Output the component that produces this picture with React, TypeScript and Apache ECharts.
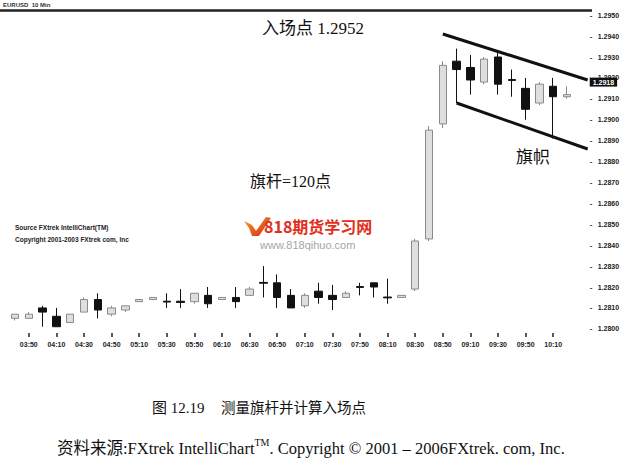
import React, { useEffect, useRef } from 'react';
import * as echarts from 'echarts';

// 10-minute EUR/USD bars, 03:40 – 10:20, plus one empty slot on the right
const TIMES = [
  '03:40', '03:50', '04:00', '04:10', '04:20', '04:30', '04:40', '04:50', '05:00', '05:10',
  '05:20', '05:30', '05:40', '05:50', '06:00', '06:10', '06:20', '06:30', '06:40', '06:50',
  '07:00', '07:10', '07:20', '07:30', '07:40', '07:50', '08:00', '08:10', '08:20', '08:30',
  '08:40', '08:50', '09:00', '09:10', '09:20', '09:30', '09:40', '09:50', '10:00', '10:10',
  '10:20', '10:30',
];

const OPEN = [
  1.2805, 1.2805, 1.2810, 1.2806, 1.2803, 1.2808, 1.2814, 1.2807, 1.2809, 1.2813,
  1.2814, 1.28132, 1.28132, 1.2813, 1.2816, 1.2814, 1.2815, 1.2816, 1.28222, 1.2822,
  1.2816, 1.2811, 1.2818, 1.2816, 1.2815, 1.28202, 1.2822, 1.28152, 1.2815, 1.2819,
  1.2843, 1.2898, 1.2928, 1.2925, 1.2918, 1.2930, 1.29192, 1.2915, 1.2908, 1.2916,
  1.2911,
];
const CLOSE = [
  1.2807, 1.2807, 1.2808, 1.2801, 1.2807, 1.2814, 1.2809, 1.2810, 1.2811, 1.2814,
  1.2815, 1.28128, 1.28126, 1.2817, 1.2812, 1.2815, 1.2813, 1.2819, 1.28218, 1.2815,
  1.2810, 1.2816, 1.2815, 1.2814, 1.2817, 1.28198, 1.2820, 1.28148, 1.2816, 1.2842,
  1.2895, 1.2926, 1.2924, 1.2919, 1.2929, 1.2917, 1.29188, 1.2905, 1.2917, 1.2911,
  1.2912,
];
const LOW = [
  1.2804, 1.2805, 1.2801, 1.2801, 1.2803, 1.2808, 1.2805, 1.2806, 1.2808, 1.2813,
  1.2814, 1.2810, 1.2810, 1.2812, 1.2810, 1.2814, 1.2810, 1.2816, 1.2815, 1.2810,
  1.2810, 1.2810, 1.2812, 1.2809, 1.2815, 1.2816, 1.2815, 1.2812, 1.2815, 1.2818,
  1.2842, 1.2896, 1.2908, 1.2912, 1.2917, 1.2912, 1.2911, 1.2900, 1.2907, 1.2891,
  1.2910,
];
const HIGH = [
  1.2807, 1.2808, 1.2811, 1.2810, 1.2807, 1.2815, 1.2817, 1.2811, 1.2811, 1.2814,
  1.2815, 1.2817, 1.2819, 1.2817, 1.2820, 1.2815, 1.2820, 1.2820, 1.2830, 1.2826,
  1.2819, 1.2817, 1.2822, 1.2821, 1.2818, 1.2822, 1.2822, 1.2824, 1.2816, 1.2843,
  1.2897, 1.2928, 1.2934, 1.2931, 1.2930, 1.2932, 1.2924, 1.2920, 1.2918, 1.2920,
  1.2916,
];

// price axis labels
const Y_TICKS = [
  1.2800, 1.2810, 1.2820, 1.2830, 1.2840, 1.2850, 1.2860, 1.2870,
  1.2880, 1.2890, 1.2900, 1.2910, 1.2920, 1.2930, 1.2940, 1.2950,
];

// flag boundaries as [bar index, price] end points
const UPPER_FLAG_LINE = [[31, 1.2941], [41.5, 1.2919]];
const LOWER_FLAG_LINE = [[32, 1.2908], [41.5, 1.2886]];

// current quote tag on the price scale
const PRICE_TAG = [1.2918];

const SERIF = '"Liberation Serif", "Noto Sans CJK SC", serif';
const SANS = '"Liberation Sans", Arial, sans-serif';
const Y_MIN = 1.2798;
const Y_MAX = 1.2952;

export default function App() {
  const ref = useRef<HTMLDivElement>(null);

  useEffect(() => {
    const chart = echarts.init(ref.current as HTMLDivElement, null, { renderer: 'svg' });

    const candles = TIMES.map((_, i) =>
      i < OPEN.length ? [OPEN[i], CLOSE[i], LOW[i], HIGH[i]] : '-'
    );
    // a time label every 20 minutes, none on the empty trailing slot
    const everyOther = (i: number) => i % 2 === 1 && i < OPEN.length;

    chart.setOption({
      animation: false,
      backgroundColor: '#ffffff',
      grid: { left: 8.1, right: 37.3, top: 11, bottom: 130 },
      xAxis: [
        {
          type: 'category',
          data: TIMES,
          boundaryGap: true,
          axisLine: { show: false },
          axisTick: {
            show: true,
            alignWithLabel: true,
            interval: everyOther,
            length: 4,
            lineStyle: { color: '#222', width: 1.5 },
          },
          axisLabel: {
            interval: everyOther,
            margin: 8,
            fontSize: 7,
            fontWeight: 'bold',
            color: '#222',
            fontFamily: SANS,
          },
          splitLine: { show: false },
        },
        {
          type: 'value',
          min: -0.5,
          max: 41.5,
          show: false,
        },
      ],
      yAxis: [
        {
          type: 'value',
          position: 'right',
          scale: true,
          min: Y_MIN,
          max: Y_MAX,
          splitLine: { show: false },
          axisLine: { show: false },
          axisTick: { show: false },
          axisLabel: {
            customValues: Y_TICKS,
            formatter: (v: number) => '{t|-}{v|' + v.toFixed(4) + '}',
            margin: 2,
            rich: {
              t: { width: 8, fontSize: 8, fontWeight: 'bold', color: '#333', fontFamily: SANS },
              v: { fontSize: 7, fontWeight: 'bold', color: '#222', fontFamily: SANS },
            },
          },
        },
        {
          type: 'value',
          position: 'right',
          scale: true,
          min: Y_MIN,
          max: Y_MAX,
          z: 10,
          splitLine: { show: false },
          axisLine: { show: false },
          axisTick: { show: false },
          axisLabel: {
            customValues: PRICE_TAG,
            formatter: (v: number) => v.toFixed(4),
            margin: 2,
            fontSize: 7,
            fontWeight: 'bold',
            color: '#fff',
            backgroundColor: '#111',
            padding: [1, 3, 1, 3],
            fontFamily: SANS,
          },
        },
      ],
      series: [
        {
          type: 'candlestick',
          data: candles,
          barWidth: 8,
          itemStyle: {
            color: '#dedede',
            borderColor: '#8a8a8a',
            color0: '#111111',
            borderColor0: '#111111',
            borderWidth: 1,
          },
        },
        {
          type: 'line',
          xAxisIndex: 1,
          data: UPPER_FLAG_LINE,
          symbol: 'none',
          lineStyle: { color: '#111', width: 3 },
          z: 5,
        },
        {
          type: 'line',
          xAxisIndex: 1,
          data: LOWER_FLAG_LINE,
          symbol: 'none',
          lineStyle: { color: '#111', width: 3 },
          z: 5,
        },
      ],
      graphic: [
        {
          type: 'line',
          shape: { x1: 0, y1: 10.5, x2: 592, y2: 10.5 },
          style: { stroke: '#222', lineWidth: 2.5 },
        },
        {
          type: 'text',
          x: 3,
          y: 5,
          style: {
            text: 'EURUSD  10 Min',
            font: 'bold 6px ' + SANS,
            fill: '#333',
            textVerticalAlign: 'middle',
          },
        },
        {
          type: 'text',
          x: 262,
          y: 28,
          style: {
            text: '入场点 1.2952',
            font: '17px ' + SERIF,
            fill: '#111',
            textVerticalAlign: 'middle',
          },
        },
        {
          type: 'text',
          x: 250,
          y: 181,
          style: {
            text: '旗杆=120点',
            font: '16px ' + SERIF,
            fill: '#111',
            textVerticalAlign: 'middle',
          },
        },
        {
          type: 'text',
          x: 516,
          y: 157,
          style: {
            text: '旗帜',
            font: '17px ' + SERIF,
            fill: '#111',
            textVerticalAlign: 'middle',
          },
        },
        {
          type: 'text',
          x: 15,
          y: 227,
          style: {
            text: 'Source FXtrek IntelliChart(TM)',
            font: 'bold 6.5px ' + SANS,
            fill: '#222',
            textVerticalAlign: 'middle',
          },
        },
        {
          type: 'text',
          x: 15,
          y: 239,
          style: {
            text: 'Copyright 2001-2003 FXtrek com, Inc',
            font: 'bold 6.5px ' + SANS,
            fill: '#222',
            textVerticalAlign: 'middle',
          },
        },
        {
          type: 'polygon',
          shape: {
            points: [[244, 221], [252, 225], [256, 231], [266, 217], [271, 218], [259, 236], [252, 236], [249, 228]],
          },
          style: {
            fill: new echarts.graphic.LinearGradient(0, 0, 1, 1, [
              { offset: 0, color: '#f7a21b' },
              { offset: 1, color: '#d9261c' },
            ]),
          },
        },
        {
          type: 'text',
          x: 264,
          y: 226,
          style: {
            text: '818期货学习网',
            font: 'bold 16px "Noto Sans CJK SC", sans-serif',
            fill: '#e0301e',
            textVerticalAlign: 'middle',
          },
        },
        {
          type: 'text',
          x: 260,
          y: 245,
          style: {
            text: 'www.818qihuo.com',
            font: '11px ' + SANS,
            fill: '#a5a5a5',
            textVerticalAlign: 'middle',
          },
        },
        {
          type: 'text',
          x: 152,
          y: 408,
          style: {
            text: '图 12.19',
            font: '15px ' + SERIF,
            fill: '#111',
            textVerticalAlign: 'middle',
          },
        },
        {
          type: 'text',
          x: 221,
          y: 408,
          style: {
            text: '测量旗杆并计算入场点',
            font: '14.5px ' + SERIF,
            fill: '#111',
            textVerticalAlign: 'middle',
          },
        },
        {
          type: 'text',
          x: 57,
          y: 447,
          style: {
            text: '{a|资料来源:FXtrek IntelliChart}{s|TM}{a|. Copyright © 2001 – 2006FXtrek. com, Inc.}',
            textVerticalAlign: 'middle',
            rich: {
              a: { font: '16.5px ' + SERIF, fill: '#111', lineHeight: 20, verticalAlign: 'bottom' },
              s: { font: '10px ' + SERIF, fill: '#111', lineHeight: 20, verticalAlign: 'top' },
            },
          },
        },
      ],
    });

    return () => chart.dispose();
  }, []);

  return (
    <div
      ref={ref}
      style={{ position: 'fixed', left: 0, top: 0, width: 625, height: 463, background: '#fff' }}
    />
  );
}
